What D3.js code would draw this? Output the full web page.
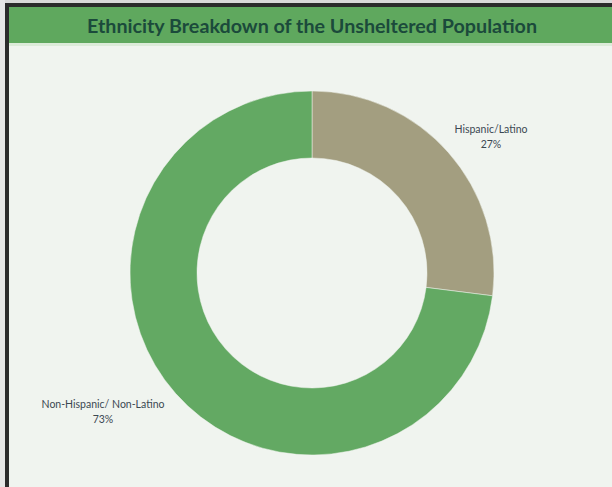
<!DOCTYPE html>
<html>
<head>
<meta charset="utf-8">
<script src="https://cdn.jsdelivr.net/npm/d3@7"></script>
<style>
  html, body { margin: 0; padding: 0; background: #ffffff; }
  svg { display: block; }
</style>
</head>
<body>
<svg id="chart" width="612" height="487"></svg>
<script>
// Ethnicity shares of the unsheltered population
const categories = ["Hispanic/Latino", "Non-Hispanic/ Non-Latino"];
const shares = [27, 73];
const sliceColors = ["#a39e80", "#63a963"];
const chartTitle = "Ethnicity Breakdown of the Unsheltered Population";

const W = 612, H = 487;
const svg = d3.select("#chart");

// frame and panel
svg.append("rect").attr("x", 0).attr("y", 0).attr("width", W).attr("height", H).attr("fill", "#f0f4ef");
svg.append("rect").attr("x", 0).attr("y", 0).attr("width", W).attr("height", 3).attr("fill", "#d9d9d9");
svg.append("rect").attr("x", 4).attr("y", 3).attr("width", W - 4).attr("height", 4).attr("fill", "#2b2b2b");
svg.append("rect").attr("x", 0).attr("y", 0).attr("width", 5).attr("height", H).attr("fill", "#e6e6e6");
svg.append("rect").attr("x", 5).attr("y", 3).attr("width", 4).attr("height", H - 3).attr("fill", "#2b2b2b");

// title band
svg.append("rect").attr("x", 9).attr("y", 7).attr("width", W - 9).attr("height", 36).attr("fill", "#5fa85e");
svg.append("rect").attr("x", 9).attr("y", 43).attr("width", W - 9).attr("height", 3).attr("fill", "#dcebd9");
svg.append("text")
  .attr("x", 312).attr("y", 33)
  .attr("text-anchor", "middle")
  .attr("font-family", "Lato, 'Open Sans', sans-serif")
  .attr("font-weight", "bold")
  .attr("font-size", 18.5)
  .attr("textLength", 450)
  .attr("lengthAdjust", "spacingAndGlyphs")
  .attr("fill", "#1b4a3b")
  .text(chartTitle);

// donut
const cx = 312, cy = 273, outerR = 182, innerR = 115;
const pie = d3.pie().sort(null).value(d => d.value).startAngle(0).endAngle(2 * Math.PI);
const arc = d3.arc().innerRadius(innerR).outerRadius(outerR);
const data = categories.map((c, i) => ({ name: c, value: shares[i], color: sliceColors[i] }));

const g = svg.append("g").attr("transform", `translate(${cx},${cy})`);
g.selectAll("path")
  .data(pie(data))
  .join("path")
  .attr("d", arc)
  .attr("fill", d => d.data.color)
  .attr("stroke", "#f0f4ef")
  .attr("stroke-width", 0.5);

// slice labels placed outside the ring
const labelPos = [
  { x: 491, y: 133 },
  { x: 103, y: 408 }
];
data.forEach((d, i) => {
  const t = svg.append("text")
    .attr("x", labelPos[i].x).attr("y", labelPos[i].y)
    .attr("text-anchor", "middle")
    .attr("font-family", "Lato, 'Open Sans', sans-serif")
    .attr("font-size", 10.5)
    .attr("fill", "#3b4852");
  t.append("tspan").attr("x", labelPos[i].x).attr("dy", 0).text(d.name);
  t.append("tspan").attr("x", labelPos[i].x).attr("dy", 15).text(d.value + "%");
});
</script>
</body>
</html>
